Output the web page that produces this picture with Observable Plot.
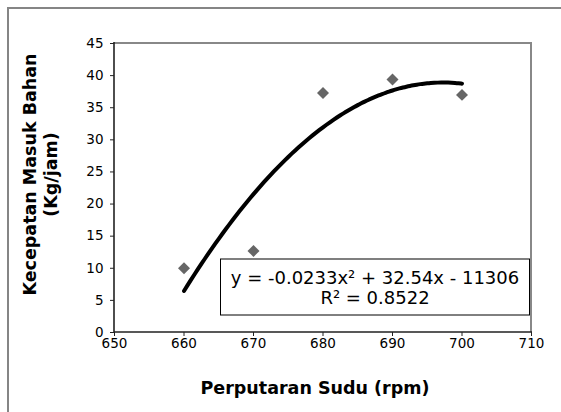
<!DOCTYPE html>
<html><head><meta charset="utf-8">
<script src="https://cdn.jsdelivr.net/npm/d3@7"></script>
<script src="https://cdn.jsdelivr.net/npm/@observablehq/plot@0.6"></script>
<style>html,body{margin:0;padding:0;background:#fff;overflow:hidden;width:561px;height:412px}#chart svg{display:block}</style>
</head><body><div id="chart"></div>
<script>
// ---- data ----
const rpm = [660, 670, 680, 690, 700];
const laju = [10.0, 12.7, 37.3, 39.4, 37.0];
const xTicks = [650, 660, 670, 680, 690, 700, 710];
const yTicks = [0, 5, 10, 15, 20, 25, 30, 35, 40, 45];
const xLabel = "Perputaran Sudu (rpm)";
const yLabel = "Kecepatan Masuk Bahan\n(Kg/jam)";
const eqLine1 = "y = -0.0233x² + 32.54x - 11306";
const eqLine2 = "R² = 0.8522";

const points = rpm.map((x, i) => ({x, y: laju[i]}));

// quadratic least-squares trendline (as Excel's polynomial order 2)
function polyfit2(xs, ys) {
  const n = xs.length, m = d3.mean(xs);
  const t = xs.map(x => x - m);
  const S = k => d3.sum(t, v => v ** k);
  const T = k => d3.sum(t, (v, i) => v ** k * ys[i]);
  const A = [[n, S(1), S(2), T(0)], [S(1), S(2), S(3), T(1)], [S(2), S(3), S(4), T(2)]];
  for (let i = 0; i < 3; i++) {
    for (let j = i + 1; j < 3; j++) {
      const f = A[j][i] / A[i][i];
      for (let k = i; k < 4; k++) A[j][k] -= f * A[i][k];
    }
  }
  const p = [0, 0, 0];
  for (let i = 2; i >= 0; i--) {
    let s = A[i][3];
    for (let k = i + 1; k < 3; k++) s -= A[i][k] * p[k];
    p[i] = s / A[i][i];
  }
  return x => p[0] + p[1] * (x - m) + p[2] * (x - m) ** 2;
}
const fit = polyfit2(rpm, laju);
const trend = d3.range(d3.min(rpm), d3.max(rpm) + 0.01, 0.5).map(x => ({x, y: fit(x)}));

const FONT = "DejaVu Sans";

// outer chart-area border (Excel style)
const outerBorder = (index, scales, values, dims) => {
  const g = d3.create("svg:g").attr("stroke", "#858585").attr("stroke-width", 2);
  g.append("line").attr("x1", 8).attr("y1", 7).attr("x2", 8).attr("y2", dims.height);
  g.append("line").attr("x1", 7).attr("y1", 8).attr("x2", dims.width).attr("y2", 8);
  return g.node();
};
// plot-area frame: gray top/right, dark axes left/bottom
const plotFrame = (index, scales, values, dims) => {
  const g = d3.create("svg:g");
  const l = dims.marginLeft, r = dims.width - dims.marginRight,
        t = dims.marginTop, b = dims.height - dims.marginBottom;
  g.append("path").attr("d", `M${l},${t}H${r}V${b}`)
    .attr("fill", "none").attr("stroke", "#888").attr("stroke-width", 2);
  g.append("path").attr("d", `M${l},${t - 1}V${b}H${r + 1}`)
    .attr("fill", "none").attr("stroke", "#222").attr("stroke-width", 1.6);
  return g.node();
};
// trendline equation box
const eqBox = (index, scales, values, dims) => {
  const g = d3.create("svg:g");
  const right = dims.width - dims.marginRight - 1.5;
  const bottom = dims.height - dims.marginBottom - 17;
  const w = 309, h = 56;
  const left = right - w, top = bottom - h;
  g.append("rect").attr("x", left).attr("y", top).attr("width", w).attr("height", h)
    .attr("fill", "white").attr("stroke", "black").attr("stroke-width", 1);
  const cx = left + w / 2;
  [eqLine1, eqLine2].forEach((s, i) => {
    g.append("text").attr("x", cx).attr("y", top + 24.5 + i * 20)
      .attr("text-anchor", "middle").attr("font-family", FONT)
      .attr("font-size", 18).attr("fill", "black").text(s);
  });
  return g.node();
};

const chart = Plot.plot({
  width: 561,
  height: 412,
  marginLeft: 114,
  marginRight: 30,
  marginTop: 43,
  marginBottom: 80,
  style: {fontFamily: FONT, fontSize: "13px", color: "black", background: "white", overflow: "hidden"},
  x: {domain: [650, 710]},
  y: {domain: [0, 45]},
  marks: [
    outerBorder,
    plotFrame,
    Plot.axisX(xTicks, {tickSize: 4, tickPadding: 2, label: null, fontSize: 13.5, fontFamily: FONT, stroke: "#222", fill: "black"}),
    Plot.axisY(yTicks, {tickSize: 4, tickPadding: 7, label: null, fontSize: 13.5, fontFamily: FONT, stroke: "#222", fill: "black"}),
    Plot.line(trend, {x: "x", y: "y", stroke: "black", strokeWidth: 4, strokeLinecap: "round", curve: "natural"}),
    Plot.dot(points, {x: "x", y: "y", symbol: "diamond2", r: 5.4, fill: "#666", stroke: "none"}),
    eqBox,
    Plot.text([yLabel], {text: d => d, frameAnchor: "left", rotate: -90, dx: -74.5, dy: -13.5,
      textAnchor: "middle", lineAnchor: "middle", lineHeight: 1.2,
      fontSize: 17.5, fontWeight: "bold", fontFamily: FONT, fill: "black"}),
    Plot.text([xLabel], {text: d => d, frameAnchor: "bottom", dx: -8, dy: 56,
      textAnchor: "middle", lineAnchor: "middle",
      fontSize: 17.5, fontWeight: "bold", fontFamily: FONT, fill: "black"})
  ]
});
document.getElementById("chart").appendChild(chart);
</script>
</body></html>
